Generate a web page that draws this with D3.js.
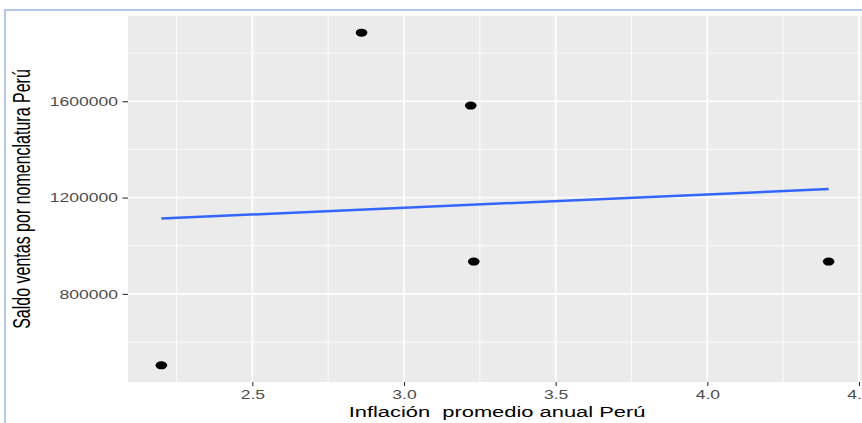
<!DOCTYPE html>
<html>
<head>
<meta charset="utf-8">
<script src="https://cdn.jsdelivr.net/npm/d3@7"></script>
<style>
  html, body { margin: 0; padding: 0; background: #fff; }
  svg { display: block; font-family: "Liberation Sans", Arial, Helvetica, sans-serif; }
</style>
</head>
<body>
<svg id="chart" width="862" height="423"></svg>
<script>
// Average annual inflation (x) and sales balance by nomenclature (y), Peru
const inflacion = [2.20, 2.86, 3.22, 3.23, 4.40];
const saldo = [503000, 1885000, 1582000, 934000, 934000];

// Axis breaks
const xTicks = [2.5, 3.0, 3.5, 4.0, 4.5];
const yTicks = [800000, 1200000, 1600000];

const xTitle = "Inflación  promedio anual Perú";
const yTitle = "Saldo ventas por nomenclatura Perú";

const W = 862, H = 423;
const panel = { left: 128, right: 862, top: 16, bottom: 382 };
const stretch = 1.46; // horizontal text stretch

const svg = d3.select("#chart");

// Outer frame
svg.append("rect")
  .attr("x", 5).attr("y", 10)
  .attr("width", 1000).attr("height", 1000)
  .attr("fill", "none")
  .attr("stroke", "#b3c8e8")
  .attr("stroke-width", 2);

// Domains padded by 5% of the data range on each side
function padded(arr) {
  const [lo, hi] = d3.extent(arr);
  const pad = (hi - lo) * 0.05;
  return [lo - pad, hi + pad];
}

const x = d3.scaleLinear().domain(padded(inflacion)).range([panel.left, panel.right]);
const y = d3.scaleLinear().domain(padded(saldo)).range([panel.bottom, panel.top]);

// Minor breaks halfway between the major ones
function minorBreaks(ticks, domain) {
  const step = ticks[1] - ticks[0];
  const out = [];
  for (let v = ticks[0] - step / 2; v <= domain[1]; v += step) {
    if (v >= domain[0]) out.push(v);
  }
  return out;
}

// Panel background
svg.append("rect")
  .attr("x", panel.left).attr("y", panel.top)
  .attr("width", panel.right - panel.left)
  .attr("height", panel.bottom - panel.top)
  .attr("fill", "#ebebeb");

const grid = svg.append("g");
grid.selectAll(".xminor").data(minorBreaks(xTicks, x.domain())).join("line")
  .attr("x1", d => x(d)).attr("x2", d => x(d))
  .attr("y1", panel.top).attr("y2", panel.bottom)
  .attr("stroke", "#fff").attr("stroke-width", 0.8);
grid.selectAll(".yminor").data(minorBreaks(yTicks, y.domain())).join("line")
  .attr("y1", d => y(d)).attr("y2", d => y(d))
  .attr("x1", panel.left).attr("x2", panel.right)
  .attr("stroke", "#fff").attr("stroke-width", 0.8);
grid.selectAll(".xmajor").data(xTicks).join("line")
  .attr("x1", d => x(d)).attr("x2", d => x(d))
  .attr("y1", panel.top).attr("y2", panel.bottom)
  .attr("stroke", "#fff").attr("stroke-width", 1.6);
grid.selectAll(".ymajor").data(yTicks).join("line")
  .attr("y1", d => y(d)).attr("y2", d => y(d))
  .attr("x1", panel.left).attr("x2", panel.right)
  .attr("stroke", "#fff").attr("stroke-width", 1.6);

// Axes
const xAxis = svg.append("g")
  .attr("transform", `translate(0,${panel.bottom})`)
  .call(d3.axisBottom(x).tickValues(xTicks).tickFormat(d3.format(".1f")).tickSize(4).tickPadding(4));
const yAxis = svg.append("g")
  .attr("transform", `translate(${panel.left},0)`)
  .call(d3.axisLeft(y).tickValues(yTicks).tickFormat(d3.format("d")).tickSize(5.5).tickPadding(4));

[xAxis, yAxis].forEach(g => {
  g.select(".domain").remove();
  g.selectAll(".tick line").attr("stroke", "#333").attr("stroke-width", 1.1);
  g.selectAll(".tick text")
    .attr("fill", "#4d4d4d")
    .attr("font-size", 12)
    .attr("font-family", "'Liberation Sans', Arial, Helvetica, sans-serif");
});
xAxis.selectAll(".tick text")
  .attr("y", 0).attr("dy", 0)
  .attr("transform", `translate(0,17) scale(${stretch},1)`);
yAxis.selectAll(".tick text")
  .attr("x", 0).attr("dy", "0.35em")
  .attr("transform", `translate(-10,0) scale(${stretch},1)`);

// Least-squares fit
const mx = d3.mean(inflacion), my = d3.mean(saldo);
let sxy = 0, sxx = 0;
inflacion.forEach((v, i) => { sxy += (v - mx) * (saldo[i] - my); sxx += (v - mx) ** 2; });
const slope = sxy / sxx, intercept = my - slope * mx;
const [x0, x1] = d3.extent(inflacion);
const fit = [x0, x1].map(v => [v, intercept + slope * v]);

// Points
svg.append("g").selectAll("ellipse")
  .data(inflacion.map((v, i) => [v, saldo[i]]))
  .join("ellipse")
  .attr("cx", d => x(d[0])).attr("cy", d => y(d[1]))
  .attr("rx", 5.8).attr("ry", 4)
  .attr("fill", "#000");

svg.append("path")
  .datum(fit)
  .attr("d", d3.line().x(d => x(d[0])).y(d => y(d[1])))
  .attr("fill", "none")
  .attr("stroke", "#3366ff")
  .attr("stroke-width", 2.5);

// Axis titles
svg.append("text")
  .attr("transform", `translate(${(panel.left + 862) / 2 + 2},417) scale(${stretch},1)`)
  .attr("text-anchor", "middle")
  .attr("font-size", 15)
  .attr("fill", "#000")
  .style("white-space", "pre")
  .text(xTitle);

svg.append("text")
  .attr("transform", `translate(30,${(panel.top + panel.bottom) / 2}) scale(${stretch},1) rotate(-90)`)
  .attr("text-anchor", "middle")
  .attr("font-size", 16)
  .attr("fill", "#000")
  .text(yTitle);
</script>
</body>
</html>
